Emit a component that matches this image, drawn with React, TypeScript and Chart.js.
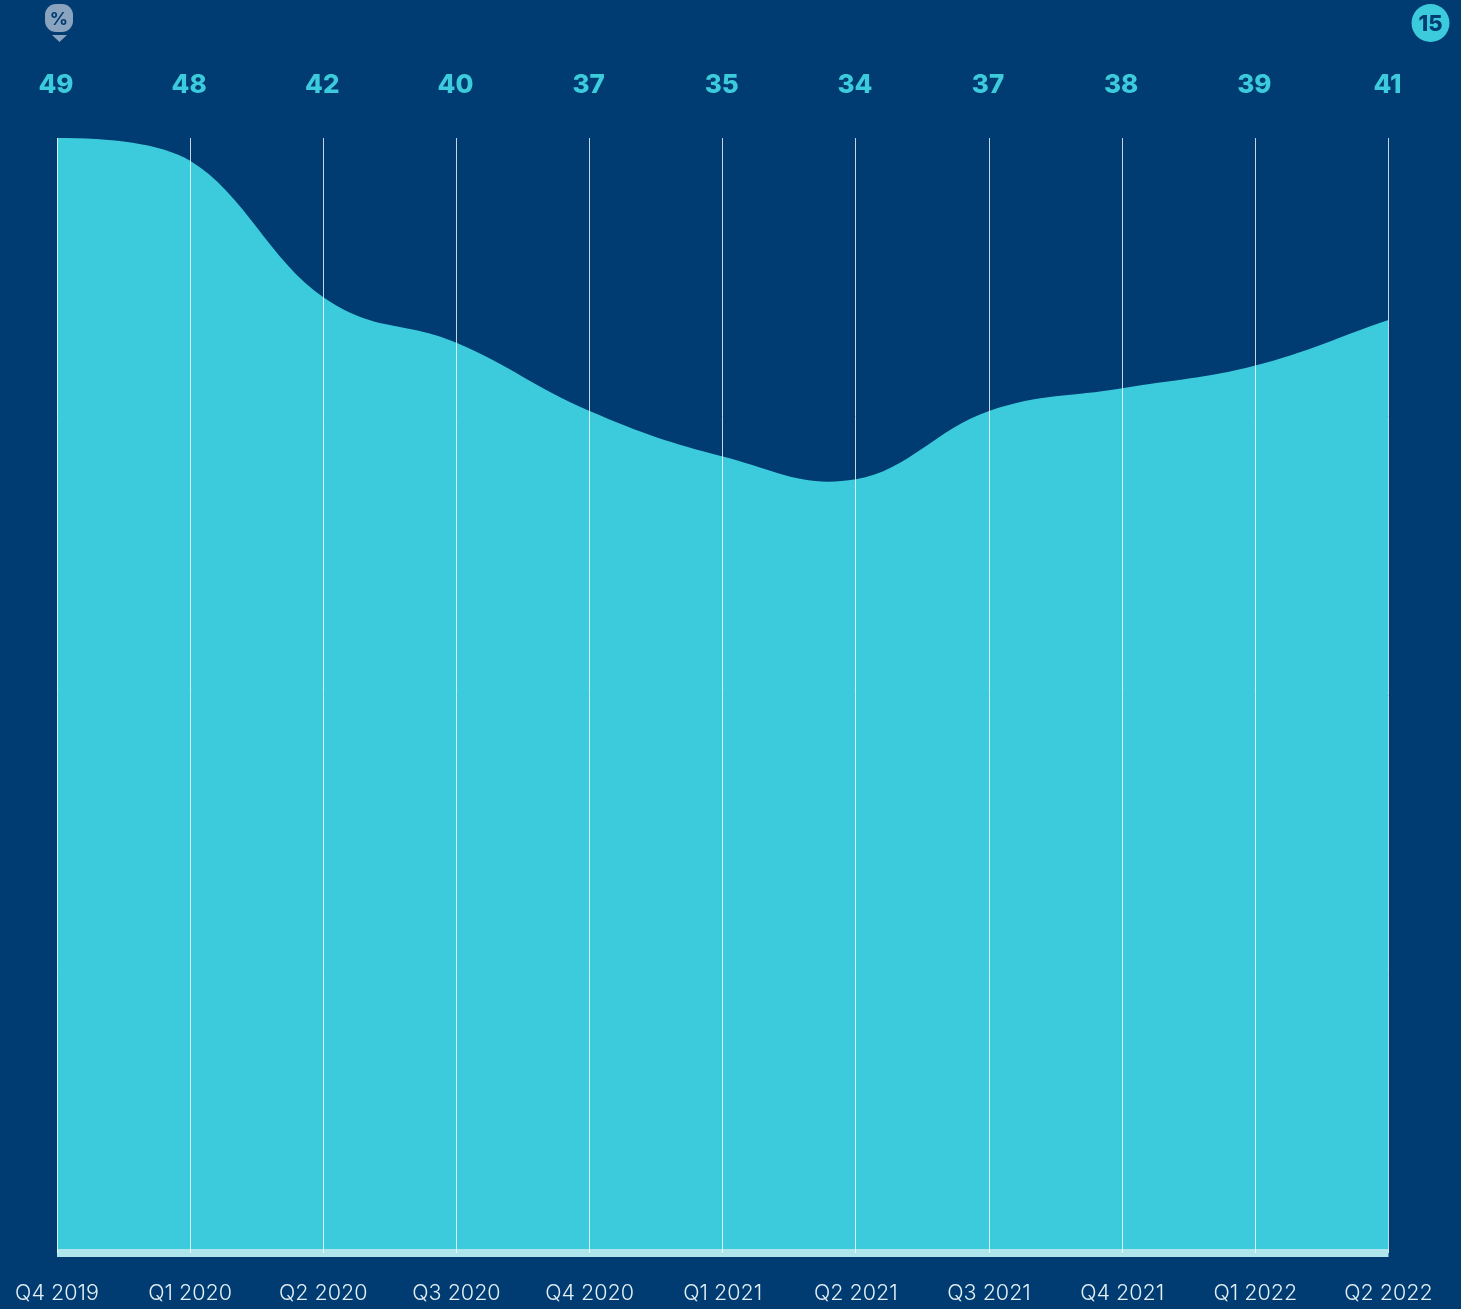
import React, { useEffect, useRef } from "react";
import { Chart, registerables } from "chart.js";

Chart.register(...registerables);

const quarters = ["Q4 2019", "Q1 2020", "Q2 2020", "Q3 2020", "Q4 2020", "Q1 2021", "Q2 2021", "Q3 2021", "Q4 2021", "Q1 2022", "Q2 2022"];
const shares = [49, 48, 42, 40, 37, 35, 34, 37, 38, 39, 41];
const shareLabels = ["49", "48", "42", "40", "37", "35", "34", "37", "38", "39", "41"];
const unitBadge = "%";
const pageBadge = "15";

const NAVY = "#003b71";
const TEAL = "#3ccbdc";

// The original curve uses even-length handles rather than Chart.js's chord-scaled ones,
// and leaves the first point flat. Recomputed from the points the scales placed.
const evenHandles = {
  id: "evenHandles",
  beforeDatasetsDraw(chart: Chart) {
    const pts: any[] = chart.getDatasetMeta(0).data as any[];
    const n = pts.length;
    for (let i = 1; i < n - 1; i++) {
      const dx = pts[i + 1].x - pts[i - 1].x;
      const dy = pts[i + 1].y - pts[i - 1].y;
      pts[i].cp1x = pts[i].x - 0.2 * dx;
      pts[i].cp1y = pts[i].y - 0.2 * dy;
      pts[i].cp2x = pts[i].x + 0.2 * dx;
      pts[i].cp2y = pts[i].y + 0.2 * dy;
    }
    const a = pts[0];
    const b = pts[1];
    const step = b.x - a.x;
    a.cp2x = a.x + 0.4 * step;
    a.cp2y = a.y;
    const slope = (pts[2].y - a.y) / (pts[2].x - a.x);
    b.cp1x = b.x - 0.22 * step;
    b.cp1y = b.y - 0.22 * step * slope;
    const z = pts[n - 1];
    const y = pts[n - 2];
    z.cp1x = z.x + 0.4 * (y.x - z.x);
    z.cp1y = z.y + 0.4 * (y.y - z.y);
  },
};

const baseBand = {
  id: "baseBand",
  afterDatasetsDraw(chart: Chart) {
    const { ctx, chartArea } = chart;
    ctx.save();
    ctx.fillStyle = "#aee6eb";
    ctx.fillRect(chartArea.left, chartArea.bottom - 4, chartArea.right - chartArea.left, 8);
    ctx.restore();
  },
};

const badges = {
  id: "badges",
  afterDraw(chart: Chart) {
    const c = chart.ctx;
    c.save();
    c.fillStyle = "#8aa3bf";
    c.beginPath();
    c.roundRect(45, 4, 28, 28, 11);
    c.fill();
    c.beginPath();
    c.moveTo(52, 35);
    c.lineTo(67, 35);
    c.lineTo(59.5, 42);
    c.closePath();
    c.fill();
    c.fillStyle = NAVY;
    c.textAlign = "center";
    c.textBaseline = "middle";
    c.font = "700 18px Inter";
    c.fillText(unitBadge, 59, 19.5);
    c.fillStyle = TEAL;
    c.beginPath();
    c.arc(1430.5, 23, 19, 0, Math.PI * 2);
    c.fill();
    c.fillStyle = NAVY;
    c.font = "800 22px Inter";
    c.fillText(pageBadge, 1430.5, 24.5);
    c.restore();
  },
};

const noSidePadding = (s: any, h: number) => {
  s.height = h;
  s.paddingLeft = 0;
  s.paddingRight = 0;
};

export default function App() {
  const ref = useRef<HTMLCanvasElement>(null);
  useEffect(() => {
    document.body.style.margin = "0";
    const chart = new Chart(ref.current!, {
      type: "line",
      data: {
        labels: quarters,
        datasets: [
          {
            data: shares,
            fill: "origin",
            backgroundColor: TEAL,
            borderWidth: 0,
            pointRadius: 0,
            tension: 0.4,
            xAxisID: "x",
            yAxisID: "y",
          },
        ],
      },
      options: {
        animation: false,
        responsive: false,
        layout: { padding: { left: 57, right: 72.5, top: 0, bottom: 0 } },
        plugins: { legend: { display: false }, tooltip: { enabled: false } },
        scales: {
          x: {
            type: "category",
            position: "bottom",
            offset: false,
            afterFit: (s: any) => noSidePadding(s, 56),
            grid: { color: "rgba(255,255,255,0.78)", lineWidth: 1, drawTicks: false, z: 1 },
            border: { display: false },
            ticks: {
              color: "#e2eff5",
              autoSkip: false,
              maxRotation: 0,
              padding: 28,
              font: { family: "Inter", size: 21.5, weight: 300 },
            },
          },
          top: {
            type: "category",
            position: "top",
            labels: shareLabels,
            offset: false,
            afterFit: (s: any) => noSidePadding(s, 138),
            grid: { display: false, drawTicks: false },
            border: { display: false },
            ticks: {
              color: TEAL,
              autoSkip: false,
              maxRotation: 0,
              padding: 37,
              labelOffset: -1,
              font: { family: "Inter", size: 26, weight: 800 },
            },
          },
          y: {
            display: false,
            min: 0,
            max: 49,
          },
        },
      },
      plugins: [evenHandles, baseBand, badges],
    } as any);
    return () => chart.destroy();
  }, []);
  return (
    <div style={{ position: "absolute", left: 0, top: 0, width: 1461, height: 1309, background: NAVY, overflow: "hidden" }}>
      <canvas ref={ref} width={1461} height={1309} style={{ display: "block" }} />
    </div>
  );
}
